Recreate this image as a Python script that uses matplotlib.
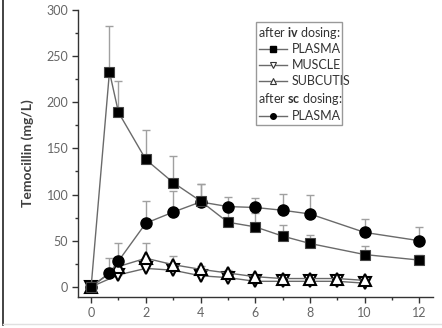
import numpy as np
import matplotlib
matplotlib.use("Agg")
import matplotlib.pyplot as plt
from matplotlib.lines import Line2D
from matplotlib.patches import Rectangle
from matplotlib.ticker import MultipleLocator

plt.rcParams['font.family'] = ['Lato', 'DejaVu Sans']
plt.rcParams['mathtext.fontset'] = 'custom'
plt.rcParams['mathtext.rm'] = 'Lato'
plt.rcParams['mathtext.bf'] = 'Lato:bold'

# time (h)
t_iv = [0, 0.67, 1, 2, 3, 4, 5, 6, 7, 8, 10, 12]
plasma_iv = [0, 233, 189, 138, 113, 93, 70, 65, 55, 47, 35, 29]
plasma_iv_err = [0, 283, 223, 170, 142, 111, 82, 80, 67, 56, 44, 35]

t_sc = [0, 0.67, 1, 2, 3, 4, 5, 6, 7, 8, 10, 12]
plasma_sc = [0, 15, 28, 69, 81, 92, 87, 86, 83, 79, 59, 50]
plasma_sc_err = [0, 31, 48, 93, 104, 111, 97, 96, 101, 99, 74, 65]

t_tis = [0, 1, 2, 3, 4, 5, 6, 7, 8, 9, 10]
muscle = [0, 13, 20, 18, 12, 10, 6, 6, 6, 6, 4]
muscle_err = [0, 15, 24, 20, 14, 11, 7, 7, 7, 7, 5]
subcutis = [0, 22, 31, 24, 19, 15, 11, 9, 9, 9, 7]
subcutis_err = [0, 31, 48, 33, 23, 18, 13, 11, 11, 10, 9]

xticks = [0, 2, 4, 6, 8, 10, 12]
yticks = [0, 50, 100, 150, 200, 250, 300]

fig = plt.figure(figsize=(4.42, 3.28), dpi=100)
ax = fig.add_axes([78 / 442, 31 / 328, 355 / 442, 287 / 328])

line_c = '#6a6a6a'
err_c = '#a0a0a0'


def series(t, y, top, **kw):
    t = np.array(t)
    y = np.array(y, dtype=float)
    up = np.array(top, dtype=float) - y
    ax.errorbar(t, y, yerr=[np.zeros_like(up), up], fmt='none', ecolor=err_c,
                elinewidth=1, capsize=3, capthick=1, zorder=2)
    ax.plot(t, y, color=line_c, lw=1, zorder=3, **kw)


series(t_tis, muscle, muscle_err, marker='v', ms=9, mfc='white', mec='black', mew=1.5)
series(t_tis, subcutis, subcutis_err, marker='^', ms=9, mfc='white', mec='black', mew=1.5)
series(t_sc, plasma_sc, plasma_sc_err, marker='o', ms=8, mfc='black', mec='black')
series(t_iv, plasma_iv, plasma_iv_err, marker='s', ms=7.5, mfc='black', mec='#444444', mew=0.8)

ax.set_xlim(-0.48, 12.5)
ax.set_ylim(-11, 300)
ax.set_xticks(xticks)
ax.set_yticks(yticks)
ax.xaxis.set_minor_locator(MultipleLocator(1))
ax.yaxis.set_minor_locator(MultipleLocator(25))
for s in ['top', 'right']:
    ax.spines[s].set_visible(False)
for s in ['left', 'bottom']:
    ax.spines[s].set_color('#333333')
    ax.spines[s].set_linewidth(1)
ax.tick_params(which='major', direction='out', length=4, width=1, color='#333333',
               labelcolor='#666666', labelsize=9, pad=3)
ax.tick_params(which='minor', direction='out', length=2.5, width=1, color='#333333')
ax.set_ylabel('Temocillin (mg/L)', fontsize=10, fontweight='bold', color='#404040', labelpad=9)

# legend box drawn by hand (group titles sit flush left)
ax.add_patch(Rectangle((0.501, 0.599), 0.243, 0.359, transform=ax.transAxes,
                       fill=False, ec='#999999', lw=1, zorder=5))
fs = 9
tc = '#333333'
ax.text(0.507, 0.920, 'after $\\mathbf{iv}$ dosing:', transform=ax.transAxes,
        fontsize=fs, color=tc, va='center', ha='left')
ax.text(0.507, 0.690, 'after $\\mathbf{sc}$ dosing:', transform=ax.transAxes,
        fontsize=fs, color=tc, va='center', ha='left')
entries = [
    (0.864, 'PLASMA', dict(marker='s', ms=4, mfc='black', mec='black')),
    (0.808, 'MUSCLE', dict(marker='v', ms=5, mfc='white', mec='#333333', mew=0.8)),
    (0.753, 'SUBCUTIS', dict(marker='^', ms=5, mfc='white', mec='#333333', mew=0.8)),
    (0.631, 'PLASMA', dict(marker='o', ms=4, mfc='black', mec='black')),
]
for yy, lab, kw in entries:
    ax.add_line(Line2D([0.510, 0.590], [yy, yy], transform=ax.transAxes,
                       color=line_c, lw=1, zorder=6))
    ax.add_line(Line2D([0.550], [yy], transform=ax.transAxes, ls='none', zorder=7, **kw))
    ax.text(0.602, yy, lab, transform=ax.transAxes, fontsize=fs, color=tc,
            va='center', ha='left')

# outer frame of the source image
fig.add_artist(Line2D([3 / 442, 3 / 442], [3 / 328, 1.0], transform=fig.transFigure,
                      color='#222222', lw=1.2))
fig.add_artist(Line2D([3 / 442, 1.0], [4 / 328, 4 / 328], transform=fig.transFigure,
                      color='#e0e0e0', lw=1))

fig.savefig('out.png', dpi=100)
